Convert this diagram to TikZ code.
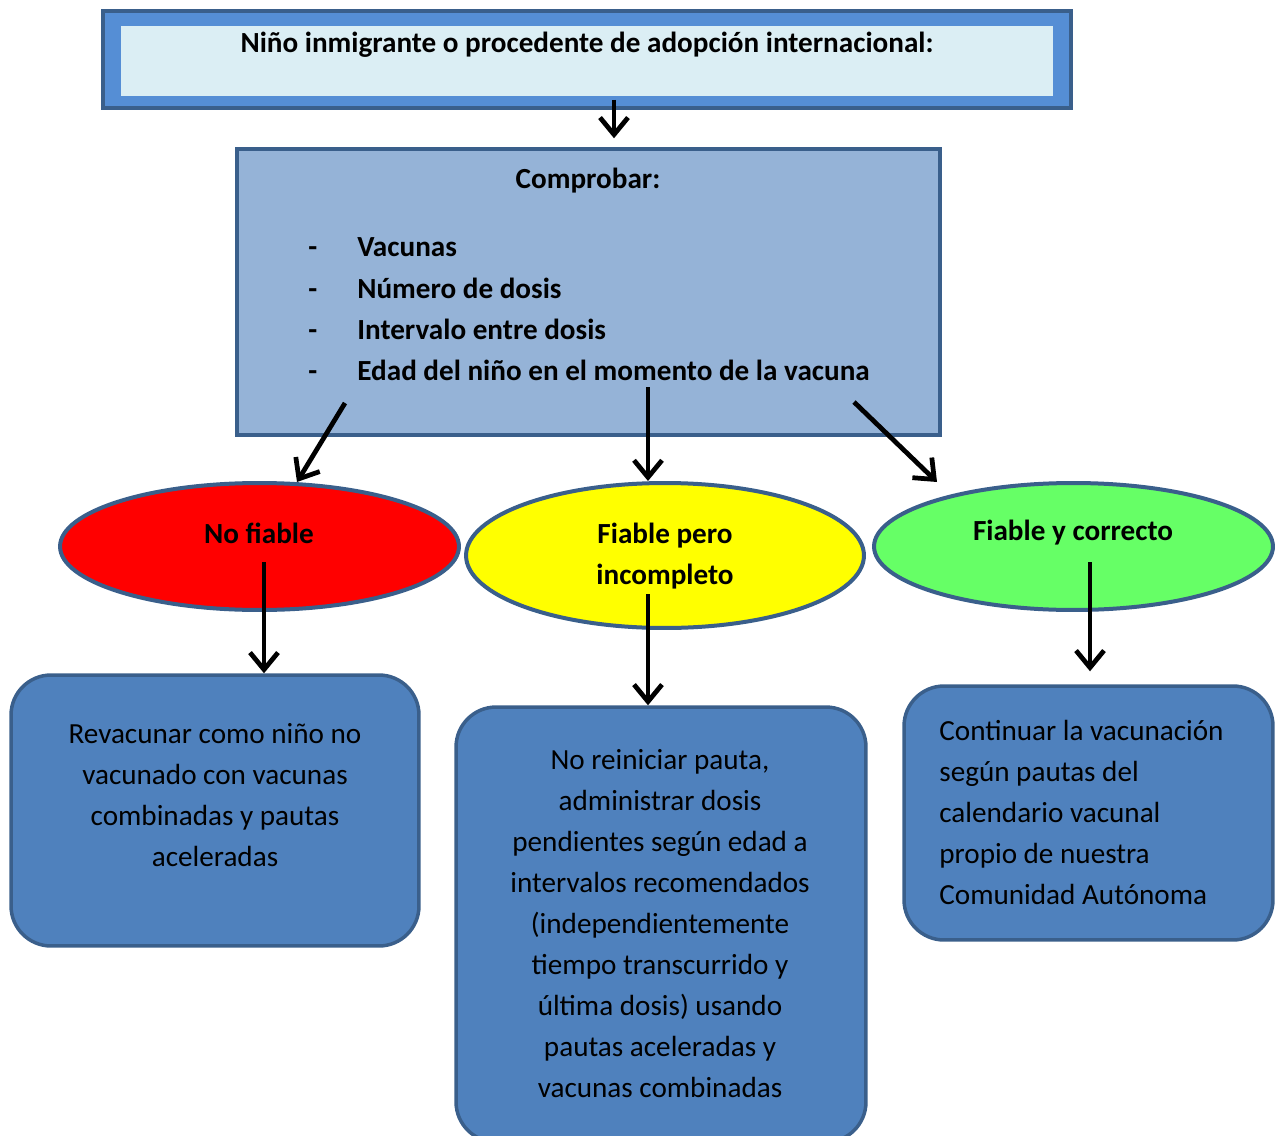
\documentclass[tikz,border=0pt]{standalone}
\usepackage{fontspec}
\setmainfont{Carlito}
\usetikzlibrary{arrows.meta,shapes.geometric,calc}

\definecolor{edge}{HTML}{3A5F8B}
\definecolor{titleblue}{HTML}{558ED5}
\definecolor{titlelight}{HTML}{DBEEF4}
\definecolor{checkblue}{HTML}{95B3D7}
\definecolor{boxblue}{HTML}{4F81BD}
\definecolor{okgreen}{HTML}{66FF66}
\definecolor{warnyellow}{HTML}{FFFF00}
\definecolor{badred}{HTML}{FF0000}

\tikzset{
  txt/.style={font=\fontsize{16.6}{23.3}\selectfont, inner sep=0pt},
  btxt/.style={font=\fontsize{16.6}{23.3}\selectfont\bfseries, inner sep=0pt},
  oval/.style={ellipse, draw=edge, line width=0.08cm, inner sep=0pt},
  rbox/.style={draw=edge, fill=boxblue, line width=0.07cm, rounded corners=0.8cm, inner sep=0pt},
  flow/.style={line width=0.095cm, -{Straight Barb[length=0.34cm,width=0.56cm]}},
}

\begin{document}
\begin{tikzpicture}[x=0.02cm, y=-0.02cm]
   \useasboundingbox (0,0) rectangle (1280,1135);
   % Title
   \node[draw=edge, fill=titleblue, line width=0.08cm, minimum width=19.36cm, minimum height=1.94cm] (top) at (587,59.5) {};
   \node[fill=titlelight, minimum width=18.64cm, minimum height=1.4cm] (topin) at (587,61) {};
   \node[btxt] (toptxt) at (587,45) {Niño inmigrante o procedente de adopción internacional:};
   % Check list
   \node[draw=edge, fill=checkblue, line width=0.07cm, minimum width=14.06cm, minimum height=5.72cm] (chk) at (588.5,292) {};
   \node[btxt] (chktxt) at (588,181) {Comprobar:};
   \foreach \y/\item [count=\i] in {248/Vacunas, 290/Número de dosis, 331/Intervalo entre dosis, 372/Edad del niño en el momento de la vacuna}{
     \node[btxt, anchor=base west] (dash\i) at (308,\y+8) {-};
     \node[btxt, anchor=base west] (item\i) at (357,\y+8) {\item};
   }
   % Ovals
   \node[oval, fill=badred, minimum width=7.98cm, minimum height=2.54cm] (red) at (259.5,546.5) {};
   \node[oval, fill=warnyellow, minimum width=7.96cm, minimum height=2.9cm] (yel) at (665,555.5) {};
   \node[oval, fill=okgreen, minimum width=7.98cm, minimum height=2.54cm] (grn) at (1073.5,546.5) {};
   \node[btxt] (redtxt) at (259,533) {No fiable};
   \node[btxt, align=center] (yeltxt) at (665,556.5) {Fiable pero\\incompleto};
   \node[btxt] (grntxt) at (1073,533) {Fiable y correcto};
   % Actions
   \node[rbox, minimum width=8.16cm, minimum height=5.42cm] (rb1) at (215,810.5) {};
   \node[rbox, minimum width=8.2cm, minimum height=8.7cm] (rb2) at (661,924.5) {};
   \node[rbox, minimum width=7.38cm, minimum height=5.08cm] (rb3) at (1088.5,813) {};
   \node[txt, align=center] (rb1txt) at (215,795) {Revacunar como niño no\\vacunado con vacunas\\combinadas y pautas\\aceleradas};
   \node[txt, align=center] (rb2txt) at (660,923.5) {No reiniciar pauta,\\administrar dosis\\pendientes según edad a\\intervalos recomendados\\(independientemente\\tiempo transcurrido y\\última dosis) usando\\pautas aceleradas y\\vacunas combinadas};
   \node[txt, align=left, anchor=west] (rb3txt) at (939,812.5) {Continuar la vacunación\\según pautas del\\calendario vacunal\\propio de nuestra\\Comunidad Autónoma};
   % Arrows
   \coordinate (s0) at (614,100);
   \coordinate (s1) at (345,403);
   \coordinate (e1) at (297,482);
   \coordinate (s2) at (648,387);
   \coordinate (s3) at (854,402);
   \coordinate (e3) at (937,482);
   \coordinate (s4) at (264,562);
   \coordinate (s5) at (648,594);
   \coordinate (s6) at (1090,562);
   \draw[flow] (s0) -- ($(s0 |- chk.north)+(0,-9)$);
   \draw[flow] (s1) -- (e1);
   \draw[flow] (s2) -- (s2 |- yel.north);
   \draw[flow] (s3) -- (e3);
   \draw[flow] (s4) -- (s4 |- rb1.north);
   \draw[flow] (s5) -- (s5 |- rb2.north);
   \draw[flow] (s6) -- ($(s6 |- rb3.north)+(0,-13)$);
\end{tikzpicture}
\end{document}
